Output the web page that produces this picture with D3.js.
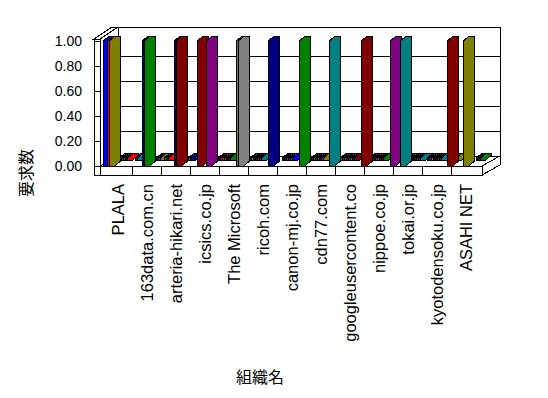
<!DOCTYPE html>
<html><head><meta charset="utf-8">
<script src="https://cdn.jsdelivr.net/npm/d3@7"></script>
<style>html,body{margin:0;padding:0;background:#fff;}svg{display:block;}</style>
</head><body><svg id="c" width="548" height="398"></svg>
<script>
const categories = ["PLALA","163data.com.cn","arteria-hikari.net","icsics.co.jp","The Microsoft","ricoh.com","canon-mj.co.jp","cdn77.com","googleusercontent.co","nippoe.co.jp","tokai.or.jp","kyotodensoku.co.jp","ASAHI NET"];
const yTickValues = [0, 0.2, 0.4, 0.6, 0.8, 1.0];
const palette = {blue:"#0000ff", red:"#ff0000", olive:"#808000", green:"#008000", darkred:"#800000", purple:"#800080", gray:"#808080", navy:"#000080", teal:"#008080"};
// per category: [series slot in cluster, series colour, value]
const barsNonZero = [
  [[0,"blue",1],[4,"red",1],[6,"olive",1]],
  [[10,"navy",1],[12,"green",1]],
  [[13,"navy",1],[15,"darkred",1]],
  [[7,"darkred",1],[16,"purple",1]],
  [[17,"olive",1],[19,"gray",1]],
  [[20,"navy",1]],
  [[22,"green",1]],
  [[23,"teal",1]],
  [[26,"darkred",1]],
  [[26,"purple",1],[36,"teal",1]],
  [],
  [[25,"darkred",1]],
  [[12,"olive",1]]
];
// slots of zero-valued series lying flat on the floor (value 0)
const barsZero = [
  [13,15,17,19,21],
  [0,2,21,23,25],
  [0,2,4,24,26],
  [25,27],
  [0,2,4,6,8,28],
  [0,2,4,6,8,10],
  [2,4,6,8,10,12],
  [2,4,6,8,10,12,14],
  [2,4,6,8,10,12,14,16],
  [2,4,6,8,10,12,14,16],
  [8,10,12,14,16,18,20,22,24],
  [2,4,6,8,10,12,14,16],
  [0,2,22,24,26]
];
const zeroColors = ["green","purple","teal","blue","red","olive","navy","darkred"];

const svg = d3.select("#c");
const DX = 18, DY = 10;
const x = d3.scaleBand().domain(categories).range([103.5, 480.5]);
const slot = d3.scaleBand().domain(d3.range(38)).range([0, 38]);
const y = d3.scaleLinear().domain([0, 1]).range([166, 41]);
const xL = 100, xR = 482;
const bw = 5.5, bdx = 5.5, bdy = 5;

const line = (pts) => "M" + pts.map(p => p.join(",")).join("L") + "Z";
const g = svg.append("g").attr("stroke", "#000").attr("stroke-width", 1).attr("fill", "#fff")
  .attr("shape-rendering", "crispEdges");

// back wall
g.append("path").attr("d", line([[xL + DX, 27], [xR + DX, 27], [xR + DX, y(0) - DY], [xL + DX, y(0) - DY]]));
g.selectAll(".grid").data(yTickValues.filter(v => v > 0 && v < 1)).join("line")
  .attr("x1", xL + DX).attr("x2", xR + DX)
  .attr("y1", v => y(v) - DY).attr("y2", v => y(v) - DY);
// floor top and right side
g.append("path").attr("d", line([[xL, y(0)], [xR, y(0)], [xR + DX, y(0) - DY], [xL + DX, y(0) - DY]]));
g.append("path").attr("d", line([[xR, y(0)], [xR + DX, y(0) - DY], [xR + DX, y(0) - DY + 9], [xR, y(0) + 9]]));

function barPath(x0, yt, yb) {
  return line([[x0, yb], [x0, yt], [x0 + bdx, yt - bdy], [x0 + bw + bdx, yt - bdy], [x0 + bw + bdx, yb - bdy], [x0 + bw, yb]]);
}
const zeroItems = [];
barsZero.forEach((arr, i) => arr.forEach((s, j) => zeroItems.push({cat: categories[i], s, c: zeroColors[(i + j) % zeroColors.length], v: 0})));
const posItems = [];
barsNonZero.forEach((arr, i) => arr.forEach(d => posItems.push({cat: categories[i], s: d[0], c: d[1], v: d[2]})));
const bx = d => x(d.cat) + slot(d.s);
zeroItems.sort((a, b) => bx(a) - bx(b));
posItems.sort((a, b) => bx(a) - bx(b));
// zero series: flat slabs sitting on the floor
g.selectAll(".zb").data(zeroItems).join("path")
  .attr("fill", d => palette[d.c])
  .attr("d", d => barPath(bx(d) + 3, y(d.v) - 8, y(0) - 6));
g.selectAll(".pb").data(posItems).join("path")
  .attr("fill", d => palette[d.c]).attr("d", d => barPath(bx(d), y(d.v), y(0)));

// left wall
g.append("path").attr("d", line([[94, y(1) - 2], [xL, y(1) - 2], [xL + DX, 27], [94 + DX, 27]]));
g.append("path").attr("d", line([[94, y(1) - 2], [xL, y(1) - 2], [xL, y(0) + 9], [94, y(0) + 9]]));
g.selectAll(".yt").data(yTickValues).join("line")
  .attr("x1", 94).attr("x2", xL).attr("y1", d => y(d)).attr("y2", d => y(d));
// floor front face with category ticks
g.append("path").attr("d", line([[xL, y(0)], [xR, y(0)], [xR, y(0) + 9], [xL, y(0) + 9]]));
g.selectAll(".xt").data(categories.slice(1)).join("line")
  .attr("x1", d => x(d)).attr("x2", d => x(d)).attr("y1", y(0)).attr("y2", y(0) + 9);

svg.append("g").selectAll("text").data(yTickValues).join("text")
  .attr("x", 82).attr("y", d => y(d)).attr("dy", "0.35em")
  .attr("text-anchor", "end").attr("font-family", "Liberation Sans, Arial, sans-serif").attr("font-size", 14)
  .text(d => d.toFixed(2));
svg.append("g").selectAll("text").data(categories).join("text")
  .attr("transform", d => `translate(${x(d) + x.bandwidth() / 2},184) rotate(-90)`)
  .attr("dy", "0.35em").attr("text-anchor", "end")
  .attr("font-family", "Liberation Sans, Arial, sans-serif").attr("font-size", 16.5)
  .text(d => d);
svg.append("text").attr("transform", "translate(26,173) rotate(-90)").attr("dy", "0.35em")
  .attr("text-anchor", "middle").attr("font-family", "Noto Sans CJK JP").attr("font-size", 16).text("要求数");
svg.append("text").attr("x", 260).attr("y", 377).attr("dy", "0.35em")
  .attr("text-anchor", "middle").attr("font-family", "Noto Sans CJK JP").attr("font-size", 16).text("組織名");
</script></body></html>
